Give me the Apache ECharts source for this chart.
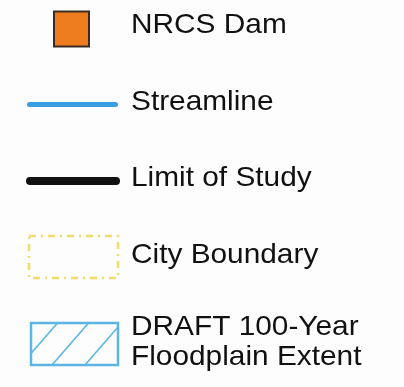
<!DOCTYPE html>
<html>
<head>
<meta charset="utf-8">
<script src="https://cdn.jsdelivr.net/npm/echarts@6/dist/echarts.min.js"></script>
<style>
html,body{margin:0;padding:0;background:#fdfdfd;}
#main{width:404px;height:387px;}
</style>
</head>
<body>
<div id="main"></div>
<script>
// Legend entries
var labels = ['NRCS Dam', 'Streamline', 'Limit of Study', 'City Boundary', 'DRAFT 100-Year\nFloodplain Extent'];
var symbolKinds = ['square', 'line', 'line', 'dashRect', 'hatchRect'];
var symbolColors = ['#EE7D1F', '#3C9EE2', '#111111', '#F2DB6A', '#5CB6E4'];

var chart = echarts.init(document.getElementById('main'), null, {renderer: 'canvas'});

var rowCenters = [29, 104.5, 181, 257, 344];
var textRowCenters = [25, 102, 178, 255, 342];
var textX = 131;
var elements = [];
var FONT = '"Liberation Sans", Arial, sans-serif';

labels.forEach(function (lab, i) {
  var cy = rowCenters[i];
  var kind = symbolKinds[i];
  var col = symbolColors[i];
  if (kind === 'square') {
    elements.push({type: 'rect', shape: {x: 54, y: cy - 17.5, width: 35, height: 35},
      style: {fill: col, stroke: '#3b2b22', lineWidth: 2}});
  } else if (kind === 'line') {
    var w = i === 1 ? 5 : 8;
    var x1 = i === 1 ? 29.5 : 30, x2 = i === 1 ? 115.5 : 116;
    elements.push({type: 'line', shape: {x1: x1, y1: cy, x2: x2, y2: cy},
      style: {stroke: col, lineWidth: w, lineCap: 'round'}});
  } else if (kind === 'dashRect') {
    elements.push({type: 'rect', shape: {x: 29, y: cy - 21, width: 89, height: 42},
      style: {fill: 'none', stroke: col, lineWidth: 2.5, lineDash: [7, 5, 2, 5]}});
  } else if (kind === 'hatchRect') {
    var rx = 31, ry = cy - 21, rw = 87, rh = 42;
    var slope = 1.15;
    [-10, 21, 54].forEach(function (off) {
      var xa = rx + off, ya = ry + rh;
      var xb = xa + rh / slope, yb = ry;
      if (xa < rx) { ya = ry + rh - (rx - xa) * slope; xa = rx; }
      if (xb > rx + rw) { yb = ry + rh - (rx + rw - (rx + off)) * slope; xb = rx + rw; }
      elements.push({type: 'line', shape: {x1: xa, y1: ya, x2: xb, y2: yb},
        style: {stroke: col, lineWidth: 1.6}});
    });
    elements.push({type: 'rect', shape: {x: rx, y: ry, width: rw, height: rh},
      style: {fill: 'none', stroke: col, lineWidth: 2.5}});
  }
  var lines = lab.split('\n');
  var lh = 30;
  var tcy = textRowCenters[i];
  lines.forEach(function (t, k) {
    var ty = tcy - (lines.length - 1) * lh / 2 + k * lh;
    elements.push({type: 'text', x: textX, y: ty, scaleX: 1.065, originX: 0,
      style: {text: t, fill: '#111', font: '28px ' + FONT, textVerticalAlign: 'middle', textAlign: 'left'}});
  });
});

chart.setOption({
  backgroundColor: '#fdfdfd',
  animation: false,
  graphic: {elements: elements}
});
</script>
</body>
</html>
